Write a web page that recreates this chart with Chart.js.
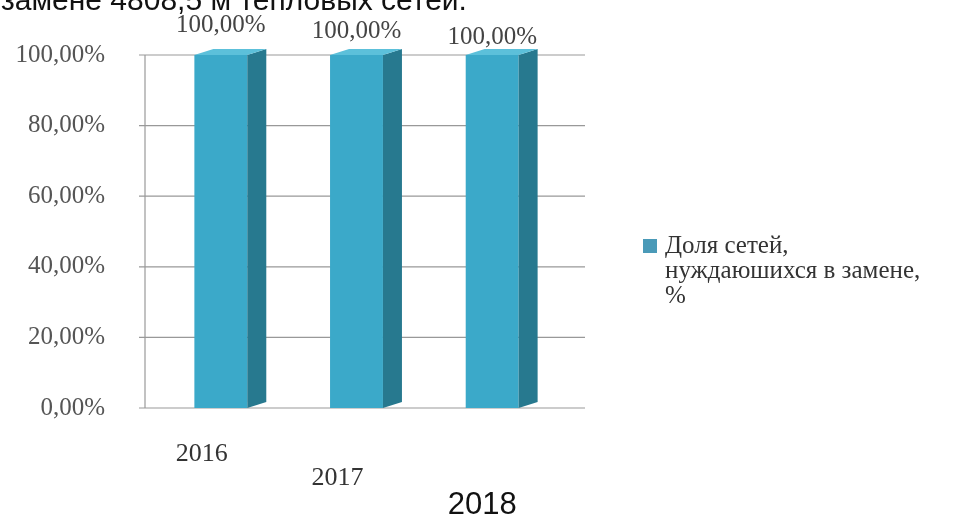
<!DOCTYPE html>
<html>
<head>
<meta charset="utf-8">
<script src="https://cdn.jsdelivr.net/npm/chart.js@4.4.1/dist/chart.umd.min.js"></script>
<style>
  html, body { margin: 0; padding: 0; background: #fff; }
  #wrap { width: 956px; height: 517px; position: relative; }
</style>
</head>
<body>
<div id="wrap"><canvas id="myChart" width="956" height="517"></canvas></div>
<script>
const years = ['2016', '2017', '2018'];
const shares = [100, 100, 100];
const yTicks = [0, 20, 40, 60, 80, 100];
const seriesName = ['Доля сетей,', 'нуждаюшихся в замене,', '%'];
const headText = 'замене 4808,5 м тепловых сетей.';

const frontColor = '#3ba9c9';
const sideColor = '#27798f';
const topColor = '#5cc0da';
const serif = '"Liberation Serif", "DejaVu Serif", serif';

function fmt(v) {
  return v.toFixed(2).replace('.', ',') + '%';
}

// per-category label nudges (the source picture is skewed)
const labelShift = [
  { dx: -19, dy: 46, font: '26px ' + serif, color: '#333' },
  { dx: -19, dy: 70, font: '26px ' + serif, color: '#333' },
  { dx: -10, dy: 97, font: '31px "Liberation Sans", Arial, sans-serif', color: '#111' }
];
const valueLift = [30, 24, 18];

const extras = {
  id: 'extras',
  beforeDatasetsDraw(chart) {
    const c = chart.ctx;
    const y = chart.scales.y;
    const a = chart.chartArea;
    c.save();
    c.strokeStyle = '#999';
    c.lineWidth = 1.2;
    yTicks.forEach(t => {
      const py = y.getPixelForValue(t);
      c.beginPath();
      c.moveTo(a.left - 14, py);
      c.lineTo(a.right + 25, py);
      c.stroke();
    });
    c.beginPath();
    c.moveTo(a.left - 8, a.top);
    c.lineTo(a.left - 8, a.bottom);
    c.stroke();
    c.restore();
  },
  afterDatasetsDraw(chart) {
    const c = chart.ctx;
    const meta = chart.getDatasetMeta(0);
    const a = chart.chartArea;
    c.save();
    meta.data.forEach((bar, i) => {
      const half = bar.width / 2;
      const l = bar.x - half, r = bar.x + half;
      const top = bar.y, bot = bar.base;
      const d = 19, lift = 6;
      // side face
      c.fillStyle = sideColor;
      c.beginPath();
      c.moveTo(r, top);
      c.lineTo(r + d, top - lift);
      c.lineTo(r + d, bot - lift);
      c.lineTo(r, bot);
      c.closePath();
      c.fill();
      // top face
      c.fillStyle = topColor;
      c.beginPath();
      c.moveTo(l, top);
      c.lineTo(l + d, top - lift);
      c.lineTo(r + d, top - lift);
      c.lineTo(r, top);
      c.closePath();
      c.fill();
      // value label
      c.fillStyle = '#444';
      c.font = '25px ' + serif;
      c.textAlign = 'center';
      c.textBaseline = 'middle';
      c.fillText(fmt(shares[i]), bar.x, top - valueLift[i]);
      // category label
      const s = labelShift[i];
      c.font = s.font;
      c.fillStyle = s.color;
      c.fillText(years[i], bar.x + s.dx, a.bottom + s.dy);
    });

    // legend
    const lx = 643, ly = 246;
    c.fillStyle = '#4a9ab8';
    c.fillRect(lx, ly - 7, 14, 14);
    c.fillStyle = '#333';
    c.font = '25px ' + serif;
    c.textAlign = 'left';
    c.textBaseline = 'middle';
    seriesName.forEach((line, k) => {
      c.fillText(line, lx + 22, ly + k * 25);
    });

    // cut-off line of the surrounding document text
    c.fillStyle = '#111';
    c.font = '30px "Liberation Sans", Arial, sans-serif';
    c.textBaseline = 'alphabetic';
    c.fillText(headText, 1, 10);
    c.restore();
  }
};

const ctx = document.getElementById('myChart');
new Chart(ctx, {
  type: 'bar',
  data: {
    labels: years,
    datasets: [{
      label: seriesName.join(' '),
      data: shares,
      backgroundColor: frontColor,
      borderWidth: 0,
      barPercentage: 0.78,
      categoryPercentage: 0.5
    }]
  },
  options: {
    responsive: false,
    animation: false,
    layout: {
      padding: { top: 53, bottom: 109, right: 396, left: 0 }
    },
    plugins: {
      legend: { display: false },
      tooltip: { enabled: false }
    },
    scales: {
      x: {
        display: false
      },
      y: {
        min: 0,
        max: 100,
        afterFit(scale) { scale.width = 153; },
        afterBuildTicks(scale) {
          scale.ticks = yTicks.map(v => ({ value: v }));
        },
        ticks: {
          padding: 40,
          color: '#555',
          font: { family: serif, size: 25 },
          callback: v => fmt(v)
        },
        grid: { display: false },
        border: { display: false }
      }
    }
  },
  plugins: [extras]
});
</script>
</body>
</html>
